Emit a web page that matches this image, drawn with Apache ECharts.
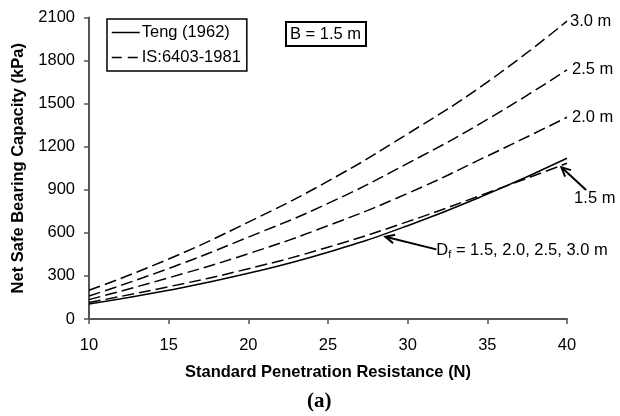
<!DOCTYPE html>
<html>
<head>
<meta charset="utf-8">
<script src="https://cdn.jsdelivr.net/npm/echarts@6/dist/echarts.min.js"></script>
<style>
  html, body { margin: 0; padding: 0; background: #fff; }
  #chart { width: 620px; height: 416px; }
</style>
</head>
<body>
<div id="chart"></div>
<script>
// Standard penetration resistance N
const spt = [10, 15, 20, 25, 30, 35, 40];
// Net safe bearing capacity (kPa), footing width B = 1.5 m
const teng = [105, 200, 318, 465, 650, 870, 1120];          // Teng (1962), all Df
const is15 = [115, 225, 350, 500, 678, 878, 1085];          // IS:6403-1981, Df = 1.5 m
const is20 = [135, 287, 455, 650, 875, 1135, 1405];         // Df = 2.0 m
const is25 = [160, 352, 570, 805, 1084, 1390, 1735];        // Df = 2.5 m
const is30 = [200, 418, 675, 960, 1290, 1650, 2075];        // Df = 3.0 m
const yTicks = [0, 300, 600, 900, 1200, 1500, 1800, 2100];
const xTicks = [10, 15, 20, 25, 30, 35, 40];

const pairs = (ys) => spt.map((n, i) => [n, ys[i]]);
const font = 'Liberation Sans, Arial, sans-serif';
const fs = 16.5;
const dash = [12, 5];

const chart = echarts.init(document.getElementById('chart'));

function dashed(ys) {
  return {
    name: 'IS:6403-1981', type: 'line', smooth: true, symbol: 'none',
    data: pairs(ys),
    lineStyle: { color: '#000', width: 1.5, type: dash },
    itemStyle: { color: '#000' }
  };
}

chart.setOption({
  animation: false,
  backgroundColor: '#fff',
  title: [
    {
      text: 'B = 1.5 m', left: 286, top: 22,
      borderColor: '#000', borderWidth: 2, padding: [4, 5, 3, 4],
      textStyle: { fontFamily: font, fontSize: fs, fontWeight: 'normal', color: '#000' }
    },
    {
      text: '(a)', left: 302, top: 386,
      textStyle: { fontFamily: 'Liberation Serif, Times New Roman, serif', fontSize: 21, fontWeight: 'bold', color: '#000' }
    }
  ],
  legend: {
    orient: 'vertical', left: 107, top: 19,
    borderColor: '#000', borderWidth: 1.5, padding: [5, 6, 5, 4],
    itemWidth: 28, itemHeight: 12, itemGap: 8,
    textStyle: { fontFamily: font, fontSize: fs, color: '#000', padding: [0, 0, 0, -3] },
    data: [
      { name: 'Teng (1962)', itemStyle: { opacity: 0 },
        lineStyle: { color: '#000', width: 1.5, type: 'solid' } },
      { name: 'IS:6403-1981', itemStyle: { opacity: 0 },
        lineStyle: { color: '#000', width: 1.5, type: [10, 6] } }
    ]
  },
  grid: { left: 89, right: 53, top: 17.5, bottom: 97 },
  xAxis: {
    type: 'value', min: xTicks[0], max: xTicks[xTicks.length - 1], interval: 5,
    name: 'Standard Penetration Resistance (N)', nameLocation: 'middle', nameGap: 45,
    nameTextStyle: { fontFamily: font, fontSize: fs, fontWeight: 'bold', color: '#000' },
    axisLine: { lineStyle: { color: '#555', width: 2 } },
    axisTick: { inside: false, length: 5, lineStyle: { color: '#555', width: 1.5 } },
    axisLabel: { fontFamily: font, fontSize: fs, color: '#000', margin: 18 },
    splitLine: { show: false }
  },
  yAxis: {
    type: 'value', min: yTicks[0], max: yTicks[yTicks.length - 1], interval: 300,
    name: 'Net Safe Bearing Capacity (kPa)', nameLocation: 'middle', nameGap: 52, nameRotate: 90,
    nameTextStyle: { fontFamily: font, fontSize: fs, fontWeight: 'bold', color: '#000' },
    axisLine: { show: true, lineStyle: { color: '#555', width: 2 } },
    axisTick: { show: true, inside: false, length: 5, lineStyle: { color: '#555', width: 1.5 } },
    axisLabel: { fontFamily: font, fontSize: fs, color: '#000', margin: 14, formatter: (v) => String(v) },
    splitLine: { show: false }
  },
  series: [
    {
      name: 'Teng (1962)', type: 'line', smooth: true, symbol: 'none',
      data: pairs(teng),
      lineStyle: { color: '#000', width: 1.5 },
      itemStyle: { color: '#000' }
    },
    dashed(is15), dashed(is20), dashed(is25), dashed(is30)
  ]
});

// Curve labels and pointer arrows, anchored in data space
const toPx = (p) => chart.convertToPixel({ gridIndex: 0 }, p);
function arrow(from, to) {
  const a = toPx(from), b = toPx(to);
  const ang = Math.atan2(b[1] - a[1], b[0] - a[0]);
  const L = 10, w = 0.45;
  return [
    { type: 'line', shape: { x1: a[0], y1: a[1], x2: b[0], y2: b[1] },
      style: { stroke: '#000', lineWidth: 2 } },
    { type: 'polyline', shape: { points: [
        [b[0] - L * Math.cos(ang - w), b[1] - L * Math.sin(ang - w)],
        [b[0], b[1]],
        [b[0] - L * Math.cos(ang + w), b[1] - L * Math.sin(ang + w)] ] },
      style: { stroke: '#000', lineWidth: 2, fill: null } }
  ];
}
function label(text, pt, dx, rich) {
  const p = toPx(pt);
  return { type: 'text', x: p[0] + dx, y: p[1],
    style: { text, fontFamily: font, fontSize: fs, fill: '#000', verticalAlign: 'middle', rich } };
}
chart.setOption({
  graphic: [
    label('3.0 m', [40, is30[6]], 3),
    label('2.5 m', [40, is25[6]], 5),
    label('2.0 m', [40, is20[6]], 5),
    label('1.5 m', [41.2, 840], -12),
    label('D{s|f} = 1.5, 2.0, 2.5, 3.0 m', [31.8, 475], 0,
      { s: { fontFamily: font, fontSize: 11, fill: '#000', padding: [9, 0, 0, 0] } }),
    ...arrow([31.8, 485], [28.6, 573]),
    ...arrow([41.2, 898], [39.65, 1057])
  ]
});
</script>
</body>
</html>
